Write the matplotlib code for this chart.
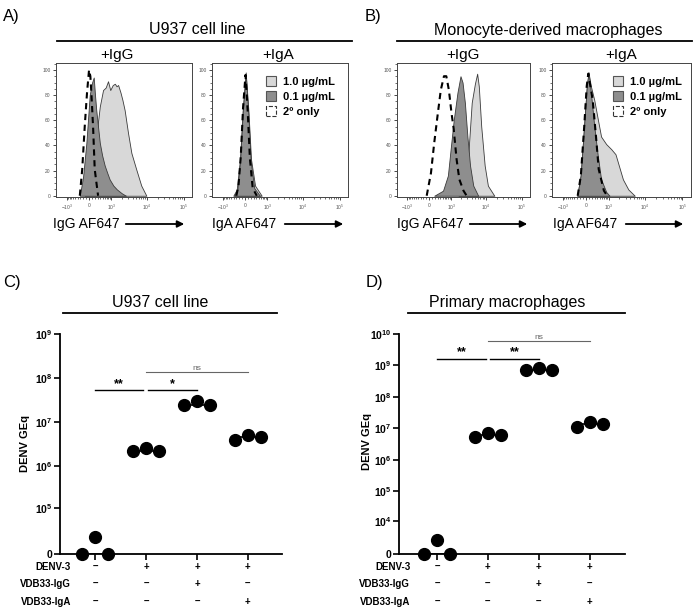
import numpy as np
import matplotlib
matplotlib.use("Agg")
import matplotlib.pyplot as plt
from matplotlib.lines import Line2D
from matplotlib.patches import Patch
from matplotlib.ticker import FixedLocator, MultipleLocator, NullLocator

plt.rcParams["font.family"] = ["Liberation Sans", "DejaVu Sans"]
plt.rcParams["mathtext.fontset"] = "custom"
plt.rcParams["mathtext.rm"] = "Liberation Sans"
plt.rcParams["mathtext.bf"] = "Liberation Sans:bold"
plt.rcParams["mathtext.it"] = "Liberation Sans:italic"

# ---- flow histograms (fluorescence, % of max) ----
# A) U937, +IgG
a_igg_hi_x = [-143, 76, 245, 380, 520, 650, 780, 920, 1100, 1270, 1420, 1580, 1850, 2100, 2420, 3000, 3720, 5060, 6960, 9600]
a_igg_hi_y = [0, 21, 47, 71, 84, 86, 91, 84, 88, 89, 87, 88, 82, 76, 68, 50, 34, 21, 8, 0]
a_igg_lo_x = [-320, -200, -88, 22, 100, 156, 200, 245, 310, 380, 480, 600, 740, 880, 1150, 1460, 2000, 2630]
a_igg_lo_y = [0, 15, 42, 80, 90, 94, 80, 68, 55, 42, 32, 24, 18, 13, 8, 5, 2, 0]
a_igg_2nd_x = [-320, -230, -143, -66, 0, 43, 76, 133, 190, 312]
a_igg_2nd_y = [0, 21, 55, 82, 100, 95, 82, 55, 21, 0]
# A) U937, +IgA
a_iga_hi_x = [-420, -285, -167, -76, 22, 110, 200, 350, 650]
a_iga_hi_y = [0, 5, 29, 68, 98, 68, 29, 8, 0]
a_iga_lo_x = [-380, -260, -160, -72, 22, 105, 190, 320, 560]
a_iga_lo_y = [0, 5, 29, 68, 97, 66, 27, 6, 0]
a_iga_2nd_x = [-300, -220, -140, -65, 15, 90, 160, 260, 420]
a_iga_2nd_y = [0, 8, 32, 70, 96, 66, 30, 6, 0]
# B) macrophages, +IgG
b_igg_hi_x = [1675, 2540, 3200, 3970, 4880, 5650, 6280, 7350, 9180, 11300, 17100]
b_igg_hi_y = [0, 11, 34, 74, 89, 97, 87, 55, 24, 8, 0]
b_igg_lo_x = [167, 520, 780, 960, 1196, 1550, 1900, 2180, 2540, 3000, 3560, 4390, 6030]
b_igg_lo_y = [0, 4, 16, 37, 60, 82, 95, 90, 74, 47, 24, 8, 0]
b_igg_2nd_x = [-88, 55, 167, 285, 420, 567, 690, 843, 1020, 1196, 1460, 1760, 2320, 2850]
b_igg_2nd_y = [0, 18, 42, 63, 84, 95, 95, 84, 66, 53, 29, 13, 4, 0]
# B) macrophages, +IgA
b_iga_hi_x = [-285, -167, -55, 33, 88, 167, 285, 420, 567, 843, 1196, 1580, 1960, 2540, 3560, 5300]
b_iga_hi_y = [0, 16, 55, 87, 98, 87, 76, 61, 47, 41, 37, 33, 24, 13, 5, 0]
b_iga_lo_x = [-285, -167, -55, 33, 88, 167, 285, 420, 567, 843, 1060]
b_iga_lo_y = [0, 16, 55, 87, 98, 82, 55, 32, 13, 3, 0]
b_iga_2nd_x = [-270, -160, -50, 30, 80, 230, 350, 460, 710, 900]
b_iga_2nd_y = [0, 16, 55, 87, 97, 76, 47, 21, 4, 0]

flow_ticks = [-1e3, 0, 1e3, 1e4, 1e5]
flow_ticklabels = [r"$-10^3$", "0", r"$10^3$", r"$10^4$", r"$10^5$"]
legend_labels = ["1.0 µg/mL", "0.1 µg/mL", "2º only"]

# ---- DENV GEq, 3 replicates per condition ----
c_groups = [[0, 1.45e4, 0], [2.2e6, 2.6e6, 2.2e6], [2.4e7, 3.0e7, 2.4e7], [3.9e6, 5.0e6, 4.6e6]]
d_groups = [[0, 1.75e3, 0], [5.2e6, 6.9e6, 6.0e6], [6.9e8, 8.0e8, 6.9e8], [1.07e7, 1.55e7, 1.35e7]]
row_names = ["DENV-3", "VDB33-IgG", "VDB33-IgA"]
row_signs = [["–", "+", "+", "+"], ["–", "–", "+", "–"], ["–", "–", "–", "+"]]

W, H = 694, 610
fig = plt.figure(figsize=(W / 100, H / 100), dpi=100)

LIGHT = "#d8d8d8"
DARK = "#8e8e8e"
EDGE = "#3a3a3a"


def box(x0, y0, x1, y1):
    return [x0 / W, 1 - y1 / H, (x1 - x0) / W, (y1 - y0) / H]


def ftext(x, y, s, **kw):
    fig.text(x / W, 1 - y / H, s, **kw)


def fline(x0, x1, y, **kw):
    fig.add_artist(Line2D([x0 / W, x1 / W], [1 - y / H] * 2, transform=fig.transFigure, **kw))


def farrow(x0, x1, y):
    fig.add_artist(matplotlib.patches.FancyArrowPatch(
        (x0 / W, 1 - y / H), (x1 / W, 1 - y / H), transform=fig.transFigure,
        arrowstyle="-|>", mutation_scale=10, lw=1.3, color="black"))


def flow_panel(rect, hx, hy, lx, ly, sx, sy, legend_x=None):
    ax = fig.add_axes(box(*rect))
    ax.set_xscale("asinh", linear_width=520)
    ax.fill_between(hx, hy, 0, facecolor=LIGHT, edgecolor=EDGE, lw=0.6)
    ax.fill_between(lx, ly, 0, facecolor=DARK, edgecolor=EDGE, lw=0.6)
    ax.plot(sx, sy, color="black", lw=1.5, ls=(0, (3, 2.2)))
    ax.set_xlim(-2050, 1.7e5)
    ax.set_ylim(-1, 105.5)
    ax.xaxis.set_major_locator(FixedLocator(flow_ticks))
    ax.set_xticklabels(flow_ticklabels)
    minors = [-k * 100 for k in range(1, 10)] + [k * 100 for k in range(1, 10)]
    minors += [k * 10 ** n for n in (3, 4) for k in range(2, 10)]
    ax.xaxis.set_minor_locator(FixedLocator(minors))
    ax.yaxis.set_major_locator(MultipleLocator(20))
    ax.yaxis.set_minor_locator(MultipleLocator(5))
    ax.tick_params(which="major", labelsize=3.5, labelcolor="#555555", length=2.5, width=0.5, pad=1.5)
    ax.tick_params(which="minor", length=1.3, width=0.4)
    for s in ax.spines.values():
        s.set_linewidth(0.7)
        s.set_color("#444444")
    if legend_x is not None:
        handles = [Patch(facecolor=LIGHT, edgecolor="#555555", lw=0.8),
                   Patch(facecolor=DARK, edgecolor="#555555", lw=0.8),
                   Patch(facecolor="white", edgecolor="#333333", lw=0.8, ls="--")]
        ax.legend(handles, legend_labels, loc="upper left", bbox_to_anchor=(legend_x, 0.90),
                  frameon=False, borderpad=0, borderaxespad=0, handlelength=0.9, handleheight=1.0,
                  handletextpad=0.6, labelspacing=0.38, prop={"size": 8, "weight": "bold"})
    return ax


flow_panel((56, 63, 192, 197), a_igg_hi_x, a_igg_hi_y, a_igg_lo_x, a_igg_lo_y, a_igg_2nd_x, a_igg_2nd_y)
flow_panel((212, 63, 348, 197), a_iga_hi_x, a_iga_hi_y, a_iga_lo_x, a_iga_lo_y, a_iga_2nd_x, a_iga_2nd_y, 0.40)
flow_panel((397, 63, 530, 197), b_igg_hi_x, b_igg_hi_y, b_igg_lo_x, b_igg_lo_y, b_igg_2nd_x, b_igg_2nd_y)
flow_panel((552, 63, 691, 197), b_iga_hi_x, b_iga_hi_y, b_iga_lo_x, b_iga_lo_y, b_iga_2nd_x, b_iga_2nd_y, 0.44)

# headers of A and B
ftext(3, 16, "A)", fontsize=12, va="center")
ftext(365, 16, "B)", fontsize=12, va="center")
ftext(197, 30, "U937 cell line", fontsize=11.5, ha="center", va="center")
ftext(548, 30, "Monocyte-derived macrophages", fontsize=11.5, ha="center", va="center")
fline(57, 352, 41, color="black", lw=1.3)
fline(397, 692, 41, color="black", lw=1.3)
for x, s in [(117, "+IgG"), (278, "+IgA"), (463, "+IgG"), (621, "+IgA")]:
    ftext(x, 55, s, fontsize=11, ha="center", va="center")
for x0, x1, s in [(53, 187, "IgG AF647"), (212, 346, "IgA AF647"), (397, 530, "IgG AF647"), (553, 686, "IgA AF647")]:
    ftext(x0, 224, s, fontsize=10, va="center")
    farrow(x0 + 70, x1, 224)

# ---- scatter panels C and D ----
JITTER = np.array([-0.25, 0.0, 0.25])


def scatter_panel(rect, groups, floor, top, yticks, ylabels, xlim, sig):
    ax = fig.add_axes(box(*rect))
    fwd = lambda v: np.log10(np.maximum(np.asarray(v, float) + floor, 1e-12))
    inv = lambda y: 10 ** np.asarray(y, float) - floor
    ax.set_yscale("function", functions=(fwd, inv))
    for i, g in enumerate(groups):
        ax.hlines(np.median(g), i - 0.25, i + 0.25, color="black", lw=1.2, zorder=2)
        ax.plot(i + JITTER, g, "o", color="black", ms=8.5, clip_on=False, zorder=3)
    ax.set_ylim(0, top)
    ax.set_xlim(*xlim)
    ax.set_yticks(yticks)
    ax.set_yticklabels(ylabels)
    ax.yaxis.set_minor_locator(NullLocator())
    ax.set_xticks(range(len(groups)))
    ax.set_xticklabels([])
    ax.tick_params(axis="y", labelsize=7.5, length=4, width=1.2, pad=1.5)
    ax.tick_params(axis="x", length=4, width=1.2)
    for lbl in ax.get_yticklabels():
        lbl.set_fontweight("bold")
    for s in ("top", "right"):
        ax.spines[s].set_visible(False)
    for s in ("left", "bottom"):
        ax.spines[s].set_linewidth(1.3)
    for x0, x1, y, txt, col, lw, fs in sig:
        ax.plot([x0, x1], [y, y], color=col, lw=lw, clip_on=False)
        if txt == "ns":
            ax.text((x0 + x1) / 2, y, txt, ha="center", va="bottom", fontsize=6, color="#666666")
        else:
            ax.text((x0 + x1) / 2, y, txt, ha="center", va="bottom", fontsize=fs, fontweight="bold")
    for r, (name, signs) in enumerate(zip(row_names, row_signs)):
        yy = [-0.059, -0.136, -0.218][r]
        ax.text(0.05, yy, name, transform=ax.transAxes, ha="right", va="center",
                fontsize=7, fontweight="bold")
        for i, s in enumerate(signs):
            ax.text(i, yy, s, transform=ax.get_xaxis_transform(), ha="center", va="center",
                    fontsize=7, fontweight="bold")
    return ax


c_ticks = [0, 1e5, 1e6, 1e7, 1e8, 1e9]
c_labels = ["0"] + [r"$\mathbf{10^{%d}}$" % n for n in range(5, 10)]
d_ticks = [0] + [10.0 ** n for n in range(4, 11)]
d_labels = ["0"] + [r"$\mathbf{10^{%d}}$" % n for n in range(4, 11)]

scatter_panel((60, 334, 282, 554), c_groups, 1e4, 1e9, c_ticks, c_labels, (-0.69, 3.67),
              [(0, 0.94, 5.4e7, "**", "black", 1.0, 9), (1.04, 2.0, 5.4e7, "*", "black", 1.0, 9),
               (1.0, 3.0, 1.4e8, "ns", "#666666", 0.8, 6)])
scatter_panel((399, 334, 625, 554), d_groups, 1e3, 1e10, d_ticks, d_labels, (-0.745, 3.69),
              [(0, 0.96, 1.66e9, "**", "black", 1.0, 9), (1.04, 2.0, 1.66e9, "**", "black", 1.0, 9),
               (1.0, 3.0, 5.8e9, "ns", "#666666", 0.8, 6)])

ftext(3, 282, "C)", fontsize=12, va="center")
ftext(366, 282, "D)", fontsize=12, va="center")
ftext(160, 302, "U937 cell line", fontsize=11.5, ha="center", va="center")
ftext(507, 302, "Primary macrophages", fontsize=11.5, ha="center", va="center")
fline(63, 277, 313, color="black", lw=1.3)
fline(408, 625, 313, color="black", lw=1.3)
ftext(25, 444, "DENV GEq", fontsize=8, fontweight="bold", rotation=90, ha="center", va="center")
ftext(367, 442, "DENV GEq", fontsize=8, fontweight="bold", rotation=90, ha="center", va="center")

fig.savefig("out.png", dpi=100)
